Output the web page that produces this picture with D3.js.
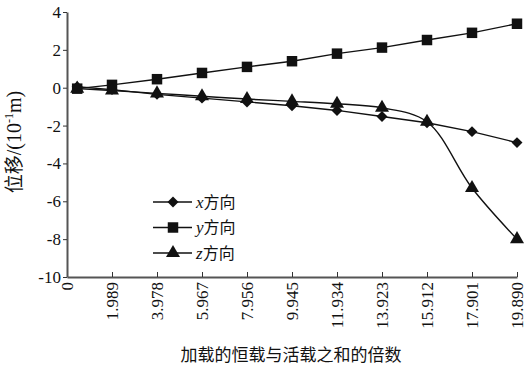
<!DOCTYPE html>
<html>
<head>
<meta charset="utf-8" />
<script src="https://d3js.org/d3.v7.min.js"></script>
<style>
  body { margin: 0; background: #fff; }
  text { font-family: 'Liberation Serif', 'Noto Sans CJK SC', serif; fill: #111; }
</style>
</head>
<body>
<div id="chart"></div>
<script>
// data
const xTicks = [0, 1.989, 3.978, 5.967, 7.956, 9.945, 11.934, 13.923, 15.912, 17.901, 19.890];
const loads = [0.45, 1.989, 3.978, 5.967, 7.956, 9.945, 11.934, 13.923, 15.912, 17.901, 19.890];
const xDir = [0.05, -0.1, -0.35, -0.55, -0.75, -0.95, -1.2, -1.52, -1.85, -2.32, -2.9];
const yDir = [-0.05, 0.15, 0.45, 0.78, 1.1, 1.4, 1.8, 2.12, 2.52, 2.9, 3.38];
const zDir = [-0.05, -0.15, -0.3, -0.45, -0.6, -0.72, -0.85, -1.06, -1.8, -5.3, -8.0];
const yTicks = [4, 2, 0, -2, -4, -6, -8, -10];

const width = 528, height = 368;
const margin = { top: 12, right: 11, bottom: 91, left: 67 };

const svg = d3.select('#chart').append('svg')
  .attr('width', width).attr('height', height);

const x = d3.scaleLinear().domain([0, 19.890]).range([margin.left, width - margin.right]);
const y = d3.scaleLinear().domain([-10, 4]).range([height - margin.bottom, margin.top]);

// axes
const gx = svg.append('g').attr('transform', `translate(0,${y(-10)})`)
  .call(d3.axisBottom(x).tickValues(xTicks).tickSize(-5).tickSizeOuter(0)
    .tickFormat(d => d === 0 ? '0' : d3.format('.3f')(d)));
gx.select('.domain').attr('stroke', '#555').attr('stroke-width', 2);
gx.selectAll('.tick line').attr('stroke', '#333');
gx.selectAll('.tick text')
  .attr('font-size', 17)
  .attr('transform', 'rotate(-90)')
  .attr('text-anchor', 'end')
  .attr('x', -5).attr('y', 0).attr('dy', '0.35em');

const gy = svg.append('g').attr('transform', `translate(${margin.left},0)`)
  .call(d3.axisLeft(y).tickValues(yTicks).tickSize(4).tickSizeOuter(0)
    .tickFormat(d => String(d)));
gy.select('.domain').attr('stroke', '#555').attr('stroke-width', 2);
gy.selectAll('.tick line').attr('stroke', '#333');
gy.selectAll('.tick text').attr('font-size', 17).attr('x', -6);

// lines
const straight = d3.line().x((d, i) => x(loads[i])).y(d => y(d));
const smooth = d3.line().x((d, i) => x(loads[i])).y(d => y(d)).curve(d3.curveCatmullRom.alpha(0.5));

// diamond = rotated square
const series = [
  { name: 'x', vals: xDir, line: straight, sym: d3.symbolSquare, size: 60, rot: 45 },
  { name: 'y', vals: yDir, line: straight, sym: d3.symbolSquare, size: 110, rot: 0 },
  { name: 'z', vals: zDir, line: smooth, sym: d3.symbolTriangle, size: 85, rot: 0 }
];

series.forEach(s => {
  svg.append('path').attr('d', s.line(s.vals))
    .attr('fill', 'none').attr('stroke', '#111').attr('stroke-width', 1.4);
  svg.append('g').selectAll('path').data(s.vals).join('path')
    .attr('transform', (d, i) => `translate(${x(loads[i])},${y(d)}) rotate(${s.rot})`)
    .attr('d', d3.symbol().type(s.sym).size(s.size))
    .attr('fill', '#111');
});

// legend
const legend = svg.append('g');
series.forEach((s, i) => {
  const ly = 202 + i * 25.5;
  legend.append('line').attr('x1', 153).attr('x2', 192).attr('y1', ly).attr('y2', ly)
    .attr('stroke', '#111').attr('stroke-width', 1.4);
  legend.append('path').attr('transform', `translate(173,${ly}) rotate(${s.rot})`)
    .attr('d', d3.symbol().type(s.sym).size(s.size)).attr('fill', '#111');
  const t = legend.append('text').attr('x', 196).attr('y', ly).attr('dy', '0.35em')
    .attr('font-size', 17);
  t.append('tspan').attr('font-style', 'italic').text(s.name);
  t.append('tspan').attr('font-family', 'Noto Sans CJK SC').attr('font-size', 16).text('方向');
});

// axis titles
svg.append('text').attr('x', 291).attr('y', 361)
  .attr('text-anchor', 'middle').attr('font-size', 17)
  .attr('font-family', 'Noto Sans CJK SC').text('加载的恒载与活载之和的倍数');

const yl = svg.append('text')
  .attr('transform', `translate(21,142) rotate(-90)`)
  .attr('text-anchor', 'middle').attr('font-size', 20);
yl.append('tspan').attr('font-family', 'Noto Sans CJK SC').attr('font-size', 19).text('位移');
yl.append('tspan').text('/(10');
yl.append('tspan').attr('font-size', 12).attr('dy', -8).text('-1');
yl.append('tspan').attr('dy', 8).text('m)');
</script>
</body>
</html>
